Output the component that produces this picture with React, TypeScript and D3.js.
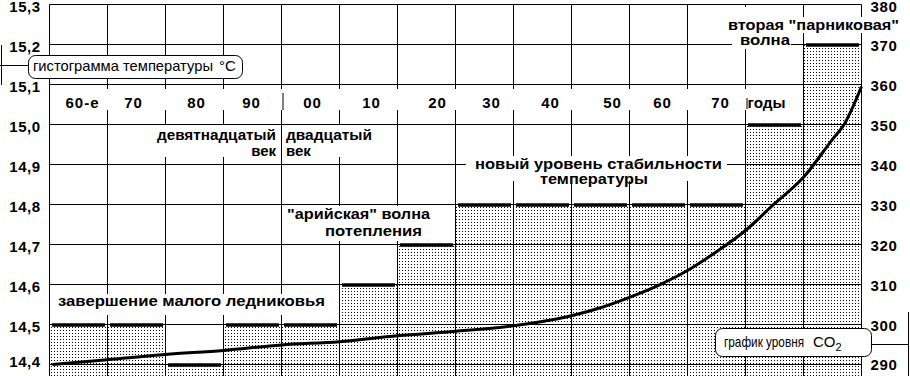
import React from 'react';
import * as d3 from 'd3';

// ---------- data ----------
const decadeLabels = ['60-е', '70', '80', '90', '00', '10', '20', '30', '40', '50', '60', '70', 'годы', ''];
const decadeStarts = [1860, 1870, 1880, 1890, 1900, 1910, 1920, 1930, 1940, 1950, 1960, 1970, 1980, 1990];
const temperature = [14.5, 14.5, 14.4, 14.5, 14.5, 14.6, 14.7, 14.8, 14.8, 14.8, 14.8, 14.8, 15.0, 15.2];

const co2Years = [1860.5, 1870, 1880, 1890, 1900, 1910, 1920, 1930, 1940, 1950, 1955, 1960, 1965, 1970, 1975, 1980, 1985, 1990, 1995, 1997, 2000];
const co2Values = [290.0, 291.2, 292.5, 293.5, 294.9, 295.7, 297.2, 298.3, 299.7, 302.2, 304.2, 306.8, 309.8, 313.5, 318.2, 323.5, 330.2, 336.8, 346.3, 350.0, 359.5];

const tempTicks = [15.3, 15.2, 15.1, 15.0, 14.9, 14.8, 14.7, 14.6, 14.5, 14.4];
const tempTickLabels = ['15,3', '15,2', '15,1', '15,0', '14,9', '14,8', '14,7', '14,6', '14,5', '14,4'];
const co2Ticks = [380, 370, 360, 350, 340, 330, 320, 310, 300, 290];

// small horizontal nudges of the decade labels, as typed in the original
const decadeLabelNudge = [4, -3, 2, -1, 2, 3, 11, 7, 8, 12, 4, 4, 0, 0];

const W = 910;
const H = 376;
const FONT = '"Liberation Sans", Arial, Helvetica, sans-serif';

type Note = { text: string; x: number; y: number; len?: number; anchor?: string };

const notes: Note[] = [
  { text: 'девятнадцатый', x: 276, y: 140, len: 119, anchor: 'end' },
  { text: 'век', x: 276, y: 156, anchor: 'end' },
  { text: 'двадцатый', x: 286, y: 140, len: 86 },
  { text: 'век', x: 286, y: 156 },
  { text: 'новый  уровень стабильности', x: 475, y: 169, len: 247 },
  { text: 'температуры', x: 540, y: 184, len: 108 },
  { text: '"арийская" волна', x: 287, y: 219, len: 143 },
  { text: 'потепления', x: 325, y: 236, len: 97 },
  { text: 'завершение малого ледниковья', x: 58, y: 306, len: 267 },
  { text: 'вторая "парниковая"', x: 728, y: 29.5, len: 171 },
  { text: 'волна', x: 740, y: 45, len: 50 },
];

const masks = [
  { x: 50, y: 89, w: 752, h: 21 },
  { x: 110, y: 125, w: 168, h: 32 },
  { x: 284, y: 125, w: 90, h: 32 },
  { x: 466, y: 156, w: 261, h: 25 },
  { x: 285, y: 206, w: 147, h: 35 },
  { x: 53, y: 294, w: 277, h: 21 },
  { x: 727, y: 17, w: 173, h: 16 },
  { x: 732, y: 7, w: 59, h: 42 },
];

export default function App() {
  const x = d3.scaleLinear().domain([1860, 2000]).range([49.5, 861.5]);
  const yT = d3.scaleLinear().domain([14.4, 15.3]).range([364.5, 4.5]);
  const yC = d3.scaleLinear().domain([290, 380]).range([364.5, 4.5]);

  const co2Pts: [number, number][] = co2Years.map((yr, i) => [yr, co2Values[i]]);
  const co2Path = d3
    .line<[number, number]>()
    .x((d) => x(d[0]))
    .y((d) => yC(d[1]))
    .curve(d3.curveMonotoneX)(co2Pts) as string;

  const boundaries = d3.range(1860, 2001, 10);
  const x0 = x(1860);
  const x1 = x(2000);
  const yTop = yT(15.3);

  return (
    <svg
      width={W}
      height={H}
      viewBox={`0 0 ${W} ${H}`}
      style={{ position: 'absolute', left: 0, top: 0, display: 'block', background: '#fff' }}
      fontFamily={FONT}
    >
      <defs>
        <pattern id="dots" width="3" height="3" patternUnits="userSpaceOnUse">
          <rect width="3" height="3" fill="#fff" />
          <rect width="1" height="1" fill="#000" />
        </pattern>
      </defs>
      <rect x={0} y={0} width={W} height={H} fill="#fff" />

      {/* temperature histogram shading */}
      {temperature.map((v, i) => (
        <rect
          key={'s' + i}
          x={x(decadeStarts[i])}
          y={yT(v)}
          width={x(decadeStarts[i] + 10) - x(decadeStarts[i])}
          height={H - yT(v)}
          fill="url(#dots)"
        />
      ))}

      {/* grid */}
      {tempTicks.map((t) => (
        <line key={'h' + t} x1={x0} x2={x1} y1={yT(t)} y2={yT(t)} stroke="#000" strokeWidth={1} />
      ))}
      {boundaries.map((b) => (
        <line key={'v' + b} x1={x(b)} x2={x(b)} y1={yTop} y2={H} stroke="#000" strokeWidth={1} />
      ))}

      {/* bar tops */}
      {temperature.map((v, i) => (
        <line
          key={'b' + i}
          x1={x(decadeStarts[i]) + 2.5}
          x2={x(decadeStarts[i] + 10) - 2.5}
          y1={yT(v) + 0.5}
          y2={yT(v) + 0.5}
          stroke="#000"
          strokeWidth={3.5}
        />
      ))}

      {/* CO2 curve */}
      <path d={co2Path} fill="none" stroke="#000" strokeWidth={3} strokeLinejoin="round" />

      {/* white label backgrounds */}
      {masks.map((m, i) => (
        <rect key={'m' + i} x={m.x} y={m.y} width={m.w} height={m.h} fill="#fff" />
      ))}
      <line x1={x(1900) + 1.5} x2={x(1900) + 1.5} y1={93} y2={110} stroke="#000" />
      <line x1={x(1980) + 1.5} x2={x(1980) + 1.5} y1={98} y2={109} stroke="#000" />

      {/* decade labels */}
      {decadeLabels.map((lab, i) =>
        lab && lab !== 'годы' ? (
          <text
            key={'d' + i}
            x={(x(decadeStarts[i]) + x(decadeStarts[i] + 10)) / 2 + decadeLabelNudge[i]}
            y={108}
            textAnchor="middle"
            fontSize={15}
            fontWeight="bold"
            letterSpacing={1}
          >
            {lab}
          </text>
        ) : null
      )}
      <text x={x(1980) + 2} y={108} fontSize={15} fontWeight="bold" textLength={38} lengthAdjust="spacingAndGlyphs">
        {decadeLabels[12]}
      </text>

      {/* annotations */}
      {notes.map((n, i) => (
        <text
          key={'n' + i}
          x={n.x}
          y={n.y}
          fontSize={15}
          fontWeight="bold"
          textAnchor={n.anchor || 'start'}
          textLength={n.len}
          lengthAdjust={n.len ? 'spacingAndGlyphs' : undefined}
        >
          {n.text}
        </text>
      ))}

      {/* left axis labels */}
      {tempTicks.map((t, i) => (
        <text
          key={'lt' + t}
          x={25}
          y={Math.min(Math.max(yT(t) + 7, 12), 367)}
          textAnchor="middle"
          fontSize={15}
          fontWeight="bold"
          letterSpacing={0.6}
        >
          {tempTickLabels[i]}
        </text>
      ))}
      {/* right axis labels */}
      {co2Ticks.map((t) => (
        <text
          key={'rt' + t}
          x={884}
          y={Math.min(Math.max(yC(t) + 6, 12), 370)}
          textAnchor="middle"
          fontSize={15}
          fontWeight="bold"
          letterSpacing={0.6}
        >
          {t}
        </text>
      ))}

      {/* legend callouts */}
      <line x1={0} x2={28.5} y1={65.5} y2={65.5} stroke="#000" />
      <line x1={1.5} x2={1.5} y1={45} y2={85} stroke="#000" />
      <rect x={28.5} y={55.5} width={214} height={23} rx={7} fill="#fff" stroke="#000" />
      <text x={33} y={71} fontSize={15} textLength={180} lengthAdjust="spacingAndGlyphs">
        гистограмма температуры
      </text>
      <text x={219} y={71} fontSize={15}>
        °C
      </text>

      <line x1={871.5} x2={909} y1={344.5} y2={344.5} stroke="#000" />
      <line x1={908.5} x2={908.5} y1={312} y2={H} stroke="#000" />
      <rect x={715.5} y={328.5} width={156} height={28} rx={7} fill="#fff" stroke="#000" />
      <text x={724} y={347} fontSize={15} textLength={80} lengthAdjust="spacingAndGlyphs">
        график уровня
      </text>
      <text x={813} y={347} fontSize={15}>
        CO<tspan dy={4} fontSize={11}>2</tspan>
      </text>
    </svg>
  );
}
